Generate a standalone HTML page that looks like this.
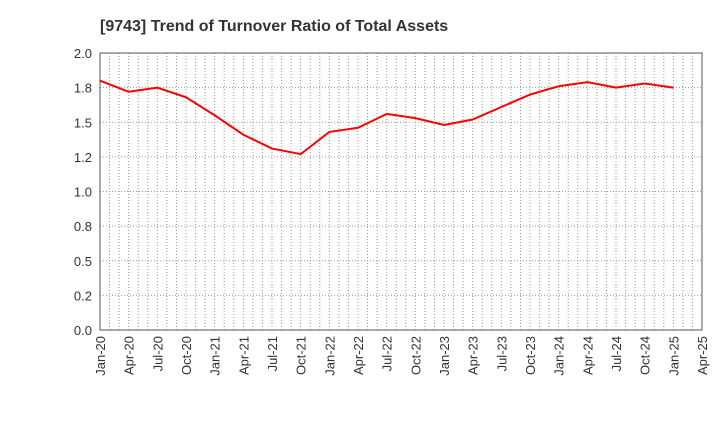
<!DOCTYPE html>
<html><head><meta charset="utf-8"><style>
body{margin:0;background:#fff;font-family:"Liberation Sans",sans-serif}
</style></head><body>
<svg id="chart" width="720" height="440" xmlns="http://www.w3.org/2000/svg" font-family="Liberation Sans, sans-serif">
<text x="100" y="31" font-size="16" font-weight="bold" fill="#333">[9743]  Trend of Turnover Ratio of Total Assets</text>
<g id="grid"></g><g id="axes"></g><g id="series"></g>
</svg>
<script>
const categories=["Jan-20","Apr-20","Jul-20","Oct-20","Jan-21","Apr-21","Jul-21","Oct-21","Jan-22","Apr-22","Jul-22","Oct-22","Jan-23","Apr-23","Jul-23","Oct-23","Jan-24","Apr-24","Jul-24","Oct-24","Jan-25","Apr-25"];
const values=[1.80,1.72,1.75,1.68,1.55,1.41,1.31,1.27,1.43,1.46,1.56,1.53,1.48,1.52,1.61,1.70,1.76,1.79,1.75,1.78,1.75];
const yTicks=[0,0.25,0.5,0.75,1.0,1.25,1.5,1.75,2.0];
const yTickLabels=["0.0","0.2","0.5","0.8","1.0","1.2","1.5","1.8","2.0"];
const L=100,R=702,T=53,B=330,NS="http://www.w3.org/2000/svg";
const x=i=>L+(R-L)*i/(categories.length-1);
const y=v=>B-(B-T)*v/2.0;
function mk(tag,attrs,parent){const e=document.createElementNS(NS,tag);for(const k in attrs)e.setAttribute(k,attrs[k]);document.getElementById(parent).appendChild(e);return e;}
yTicks.forEach((v,i)=>{
 const g=mk("line",{x1:L,x2:R,y1:y(v),y2:y(v),stroke:"#999","stroke-dasharray":"1,2"},"grid");
 
 
 const t=mk("text",{x:L-8,y:y(v)+5,"text-anchor":"end","font-size":"13",fill:"#333"},"axes");
 t.textContent=yTickLabels[i];
 
 
});
for(let m=1;m<(categories.length-1)*3;m++){
 const xm=x(m/3);
 const g=mk("line",{x1:xm,x2:xm,y1:T,y2:B,stroke:"#999","stroke-dasharray":"1,2"},"grid");
 
 
}
categories.forEach((c,i)=>{
 const t=mk("text",{transform:`translate(${x(i)+5},${B+6}) rotate(-90)`,"text-anchor":"end","font-size":"13",fill:"#333"},"axes");
 t.textContent=c;
 
 
});
const f=mk("rect",{x:L,y:T,width:R-L,height:B-T,fill:"none",stroke:"#555"},"axes");


const p=mk("polyline",{points:values.map((v,i)=>x(i)+","+y(v)).join(" "),fill:"none",stroke:"#ff0000","stroke-width":"2"},"series");


</script>
</body></html>
